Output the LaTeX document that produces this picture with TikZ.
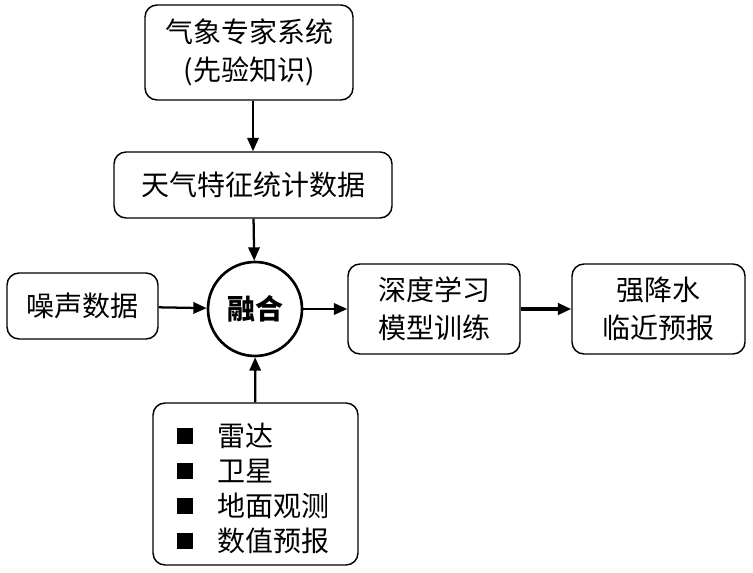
\documentclass[tikz,border=0pt]{standalone}
\usepackage{fontspec}
\setmainfont{Noto Sans CJK SC}
\usetikzlibrary{arrows.meta}
\begin{document}
\begin{tikzpicture}[x=0.75pt,y=-0.75pt,
  box/.style={draw,line width=1.1pt,rounded corners=9pt,align=center,inner sep=0pt,
    font=\fontsize{21}{28.5}\selectfont},
  fuse/.style={draw,circle,line width=2pt,inner sep=0pt,minimum size=70.5pt,
    font=\fontsize{21}{25}\selectfont\bfseries},
  arr/.style={line width=1.7pt,-{Triangle[length=10pt,width=8.5pt]}},
  bullet/.style={fill=black,inner sep=0pt,minimum size=11.5pt},
  item/.style={anchor=west,inner sep=0pt,font=\fontsize{21}{25}\selectfont}]
\useasboundingbox (0,0) rectangle (753,573);
\node[box,minimum width=156pt,minimum height=71.25pt] (expert) at (249,52.5) {气象专家系统\\(先验知识)};
\node[box,minimum width=208.5pt,minimum height=49.5pt] (weather) at (253,185) {天气特征统计数据};
\node[box,minimum width=113.25pt,minimum height=49.5pt] (noise) at (82.5,306) {噪声数据};
\node[fuse] (fuse) at (255,309) {融合};
\node[box,minimum width=129pt,minimum height=67.5pt] (deep) at (434,309) {深度学习\\模型训练};
\node[box,minimum width=129.75pt,minimum height=67.5pt] (rain) at (658.5,309) {强降水\\临近预报};
\node[box,minimum width=153.75pt,minimum height=121.5pt] (data) at (255.5,484) {};
\node[bullet] (b1) at (185,436) {};
\node[bullet] (b2) at (185,471) {};
\node[bullet] (b3) at (185,506) {};
\node[bullet] (b4) at (185,541) {};
\node[item] (t1) at (217,436) {雷达};
\node[item] (t2) at (217,471) {卫星};
\node[item] (t3) at (217,506) {地面观测};
\node[item] (t4) at (217,541) {数值预报};
\draw[arr] (expert.south -| weather.north) -- (weather.north);
\draw[arr] (weather) -- (fuse);
\draw[arr] (noise) -- (fuse);
\draw[arr] (data) -- (fuse);
\draw[arr] (fuse) -- (deep);
\draw[arr,line width=2.4pt] (deep) -- (rain);
\end{tikzpicture}
\end{document}
